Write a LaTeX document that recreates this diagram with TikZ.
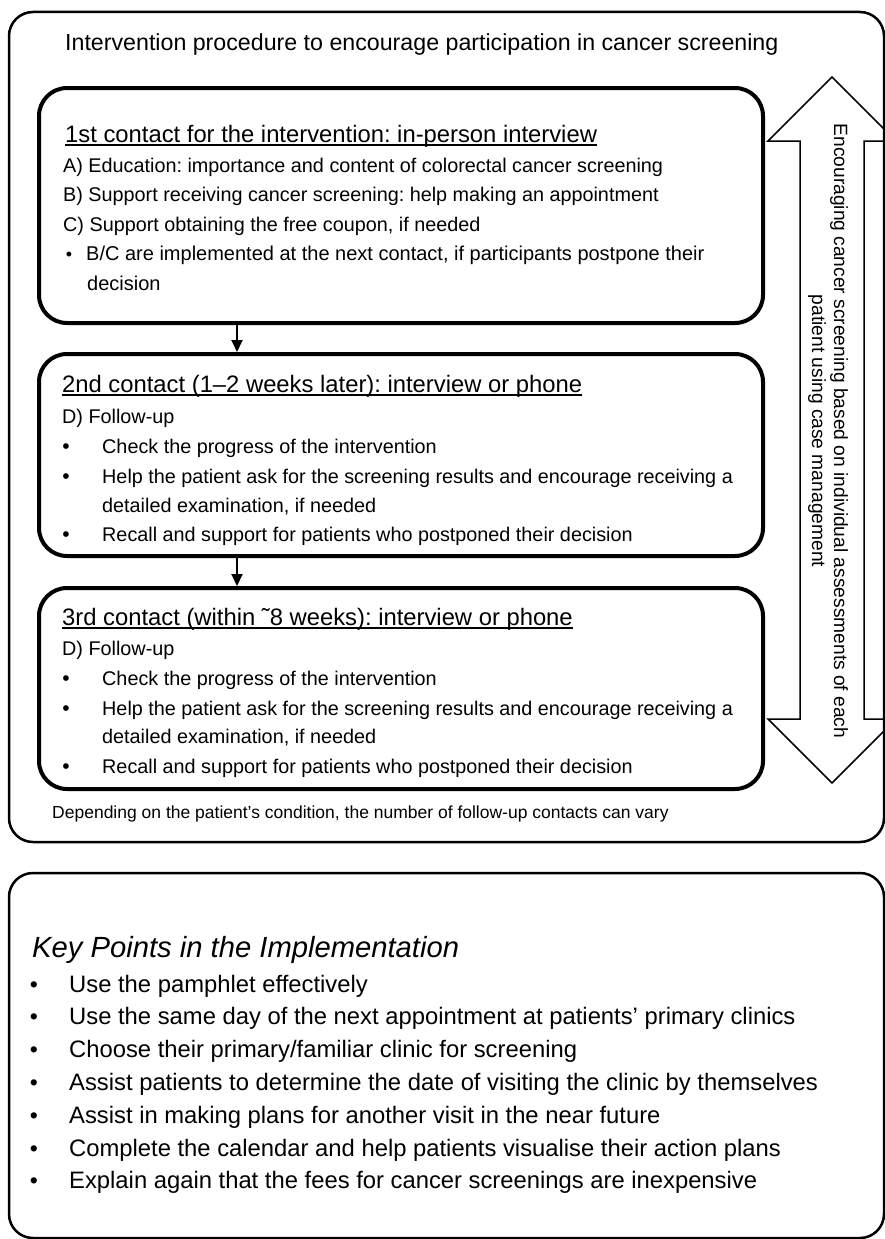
\documentclass[tikz,border=0pt]{standalone}
\usepackage{fontspec}
\setmainfont{Liberation Sans}
\usetikzlibrary{arrows.meta}

\tikzset{
  panel/.style={draw, line width=2.5pt, rounded corners=24pt, minimum width=875pt},
  stepbox/.style={draw, line width=4pt, rounded corners=28pt, minimum width=724pt},
  line/.style={anchor=base west, inner sep=0pt, font=\fontsize{19.8}{24}\selectfont},
  head/.style={line, font=\fontsize{23.8}{28}\selectfont},
  keyline/.style={line, font=\fontsize{23.8}{28}\selectfont},
  dot/.style={anchor=base, inner sep=0pt, font=\fontsize{21}{24}\selectfont},
  keydot/.style={dot, font=\fontsize{23}{26}\selectfont},
  next/.style={line width=2pt, -{Triangle[length=12pt,width=11pt]}},
  uline/.style={line width=1.2pt},
}

\begin{document}
\frenchspacing
\begin{tikzpicture}[x=1pt, y=-1pt]
    \useasboundingbox (0,0) rectangle (885,1239);
    \clip (0,0) rectangle (885,1239);

    % outer frames
    \node[panel, minimum height=830pt] (proc) at (446.5,427) {};
    \node[panel, minimum height=365pt] (keys) at (446.5,1055.5) {};
    \node[line, font=\fontsize{23.2}{27}\selectfont] (title) at (65,51) {Intervention procedure to encourage participation in cancer screening};

    % contact boxes
    \node[stepbox, minimum height=235pt] (first) at (401,205.5) {};
    \node[stepbox, minimum height=202pt] (second) at (401,455) {};
    \node[stepbox, minimum height=201pt] (third) at (401,688.5) {};
    \draw[next] ([xshift=200pt]first.south west) -- ([xshift=200pt]second.north west);
    \draw[next] ([xshift=200pt]second.south west) -- ([xshift=200pt]third.north west);

    % 1st contact
    \node[head] (h1) at (65,142) {1st contact for the intervention: in-person interview};
    \draw[uline] ([yshift=-3pt]h1.base west) -- ([yshift=-3pt]h1.base east);
    \node[line] (a1) at (63,172) {A) Education: importance and content of colorectal cancer screening};
    \node[line] (b1) at (63,201) {B) Support receiving cancer screening: help making an appointment};
    \node[line] (c1) at (63,231) {C) Support obtaining the free coupon, if needed};
    \node[dot, font=\fontsize{18}{20}\selectfont] (p1) at (69,260) {•};
    \node[line, font=\fontsize{20}{24}\selectfont] (n1) at (86,260) {B/C are implemented at the next contact, if participants postpone their};
    \node[line, font=\fontsize{20}{24}\selectfont] (n1b) at (87,290) {decision};

    % 2nd contact
    \node[head] (h2) at (62,392) {2nd contact (1--2 weeks later): interview or phone};
    \draw[uline] ([yshift=-3pt]h2.base west) -- ([yshift=-3pt]h2.base east);
    \node[line] (d2) at (62,423) {D) Follow-up};
    \node[dot] (p2a) at (66,453) {•};
    \node[line] (t2a) at (102,453) {Check the progress of the intervention};
    \node[dot] (p2b) at (66,483) {•};
    \node[line] (t2b) at (102,483) {Help the patient ask for the screening results and encourage receiving a};
    \node[line] (t2c) at (102,512) {detailed examination, if needed};
    \node[dot] (p2d) at (66,541) {•};
    \node[line] (t2d) at (102,541) {Recall and support for patients who postponed their decision};

    % 3rd contact
    \node[head] (h3) at (62,625) {3rd contact (within ˜8 weeks): interview or phone};
    \draw[uline] ([yshift=-3pt]h3.base west) -- ([yshift=-3pt]h3.base east);
    \node[line] (d3) at (62,655) {D) Follow-up};
    \node[dot] (p3a) at (66,685) {•};
    \node[line] (t3a) at (102,685) {Check the progress of the intervention};
    \node[dot] (p3b) at (66,715) {•};
    \node[line] (t3b) at (102,715) {Help the patient ask for the screening results and encourage receiving a};
    \node[line] (t3c) at (102,743) {detailed examination, if needed};
    \node[dot] (p3d) at (66,773) {•};
    \node[line] (t3d) at (102,773) {Recall and support for patients who postponed their decision};

    \node[line, font=\fontsize{17.5}{21}\selectfont] (vary) at (52,818) {Depending on the patient's condition, the number of follow-up contacts can vary};

    % side arrow
    \draw[line width=1.5pt] (832,77) -- (896,141) -- (864,141) -- (864,719) -- (896,719) -- (832,783)
        -- (768,719) -- (800,719) -- (800,141) -- (768,141) -- cycle;
    \node[rotate=-90, align=center, inner sep=0pt, font=\fontsize{19.2}{22}\selectfont] (side) at (828,431)
        {Encouraging cancer screening based on individual assessments of each\\patient using case management};

    % key points
    \node[line, font=\itshape\fontsize{29.2}{34}\selectfont] (kp) at (32,957) {Key Points in the Implementation};
    \node[keydot] (k1d) at (34,992) {•};
    \node[keyline] (k1) at (69,992) {Use the pamphlet effectively};
    \node[keydot] (k2d) at (34,1024.5) {•};
    \node[keyline] (k2) at (69,1024.5) {Use the same day of the next appointment at patients’ primary clinics};
    \node[keydot] (k3d) at (34,1057) {•};
    \node[keyline] (k3) at (69,1057) {Choose their primary/familiar clinic for screening};
    \node[keydot] (k4d) at (34,1090) {•};
    \node[keyline] (k4) at (69,1090) {Assist patients to determine the date of visiting the clinic by themselves};
    \node[keydot] (k5d) at (34,1123) {•};
    \node[keyline] (k5) at (69,1123) {Assist in making plans for another visit in the near future};
    \node[keydot] (k6d) at (34,1156) {•};
    \node[keyline] (k6) at (69,1156) {Complete the calendar and help patients visualise their action plans};
    \node[keydot] (k7d) at (34,1188) {•};
    \node[keyline] (k7) at (69,1188) {Explain again that the fees for cancer screenings are inexpensive};
\end{tikzpicture}
\end{document}
